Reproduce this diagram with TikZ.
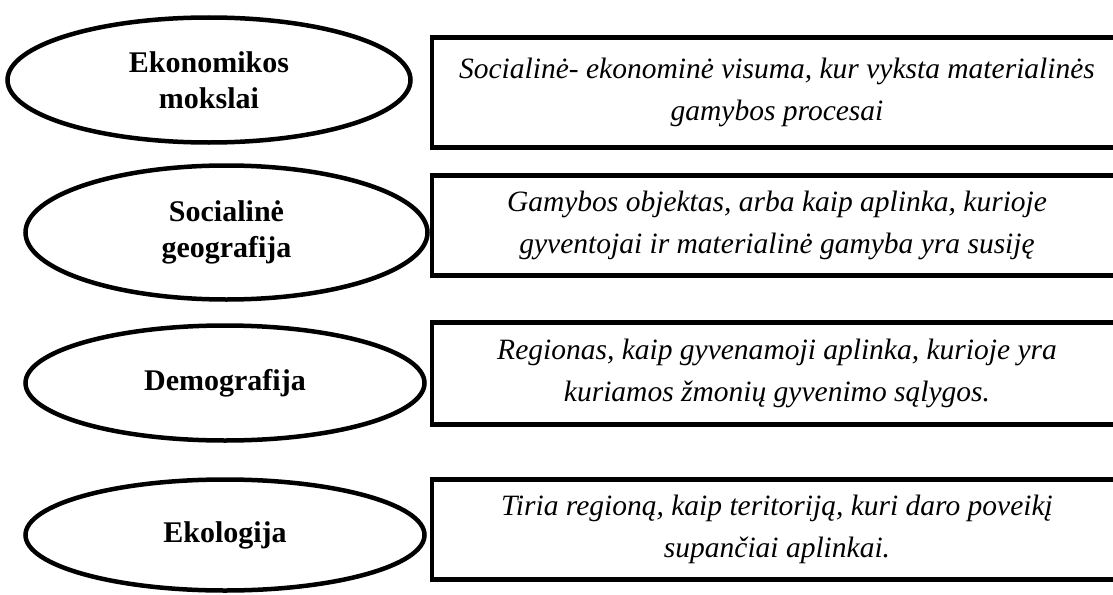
\documentclass[tikz,border=0pt]{standalone}
\usepackage{fontspec}
\setmainfont{Liberation Serif}
\usetikzlibrary{shapes.geometric}
\begin{document}
\begin{tikzpicture}[x=1pt,y=-1pt,
  oval/.style={ellipse, draw, line width=4.5pt, inner sep=0pt, align=center,
    font=\bfseries\fontsize{30}{36}\selectfont},
  desc/.style={rectangle, draw, line width=4.5pt, inner sep=0pt, align=center,
    minimum width=690pt, font=\itshape\fontsize{29.5}{42}\selectfont}]
\useasboundingbox (0,0) rectangle (1113,594);
\clip (0,0) rectangle (1113,594);

\node[oval, minimum width=403pt, minimum height=125pt] (e1) at (209,80) {Ekonomikos\\mokslai};
\node[oval, minimum width=402pt, minimum height=134pt] (e2) at (226.5,232.5) {Socialinė\\geografija};
\node[oval, minimum width=399pt, minimum height=115pt] (e3) at (225,383) {Demografija};
\node[oval, minimum width=399pt, minimum height=111pt] (e4) at (225,535) {Ekologija};

\node[desc, minimum height=110pt] (b1) at (777,92.5) {Socialinė- ekonominė visuma, kur vyksta materialinės\\gamybos procesai};
\node[desc, minimum height=100pt] (b2) at (777,225.5) {Gamybos objektas, arba kaip aplinka, kurioje\\gyventojai ir materialinė gamyba yra susiję};
\node[desc, minimum height=102pt] (b3) at (777,373.5) {Regionas, kaip gyvenamoji aplinka, kurioje yra\\kuriamos žmonių gyvenimo sąlygos.};
\node[desc, minimum height=100pt] (b4) at (777,529.5) {Tiria regioną, kaip teritoriją, kuri daro poveikį\\supančiai aplinkai.};
\end{tikzpicture}
\end{document}
